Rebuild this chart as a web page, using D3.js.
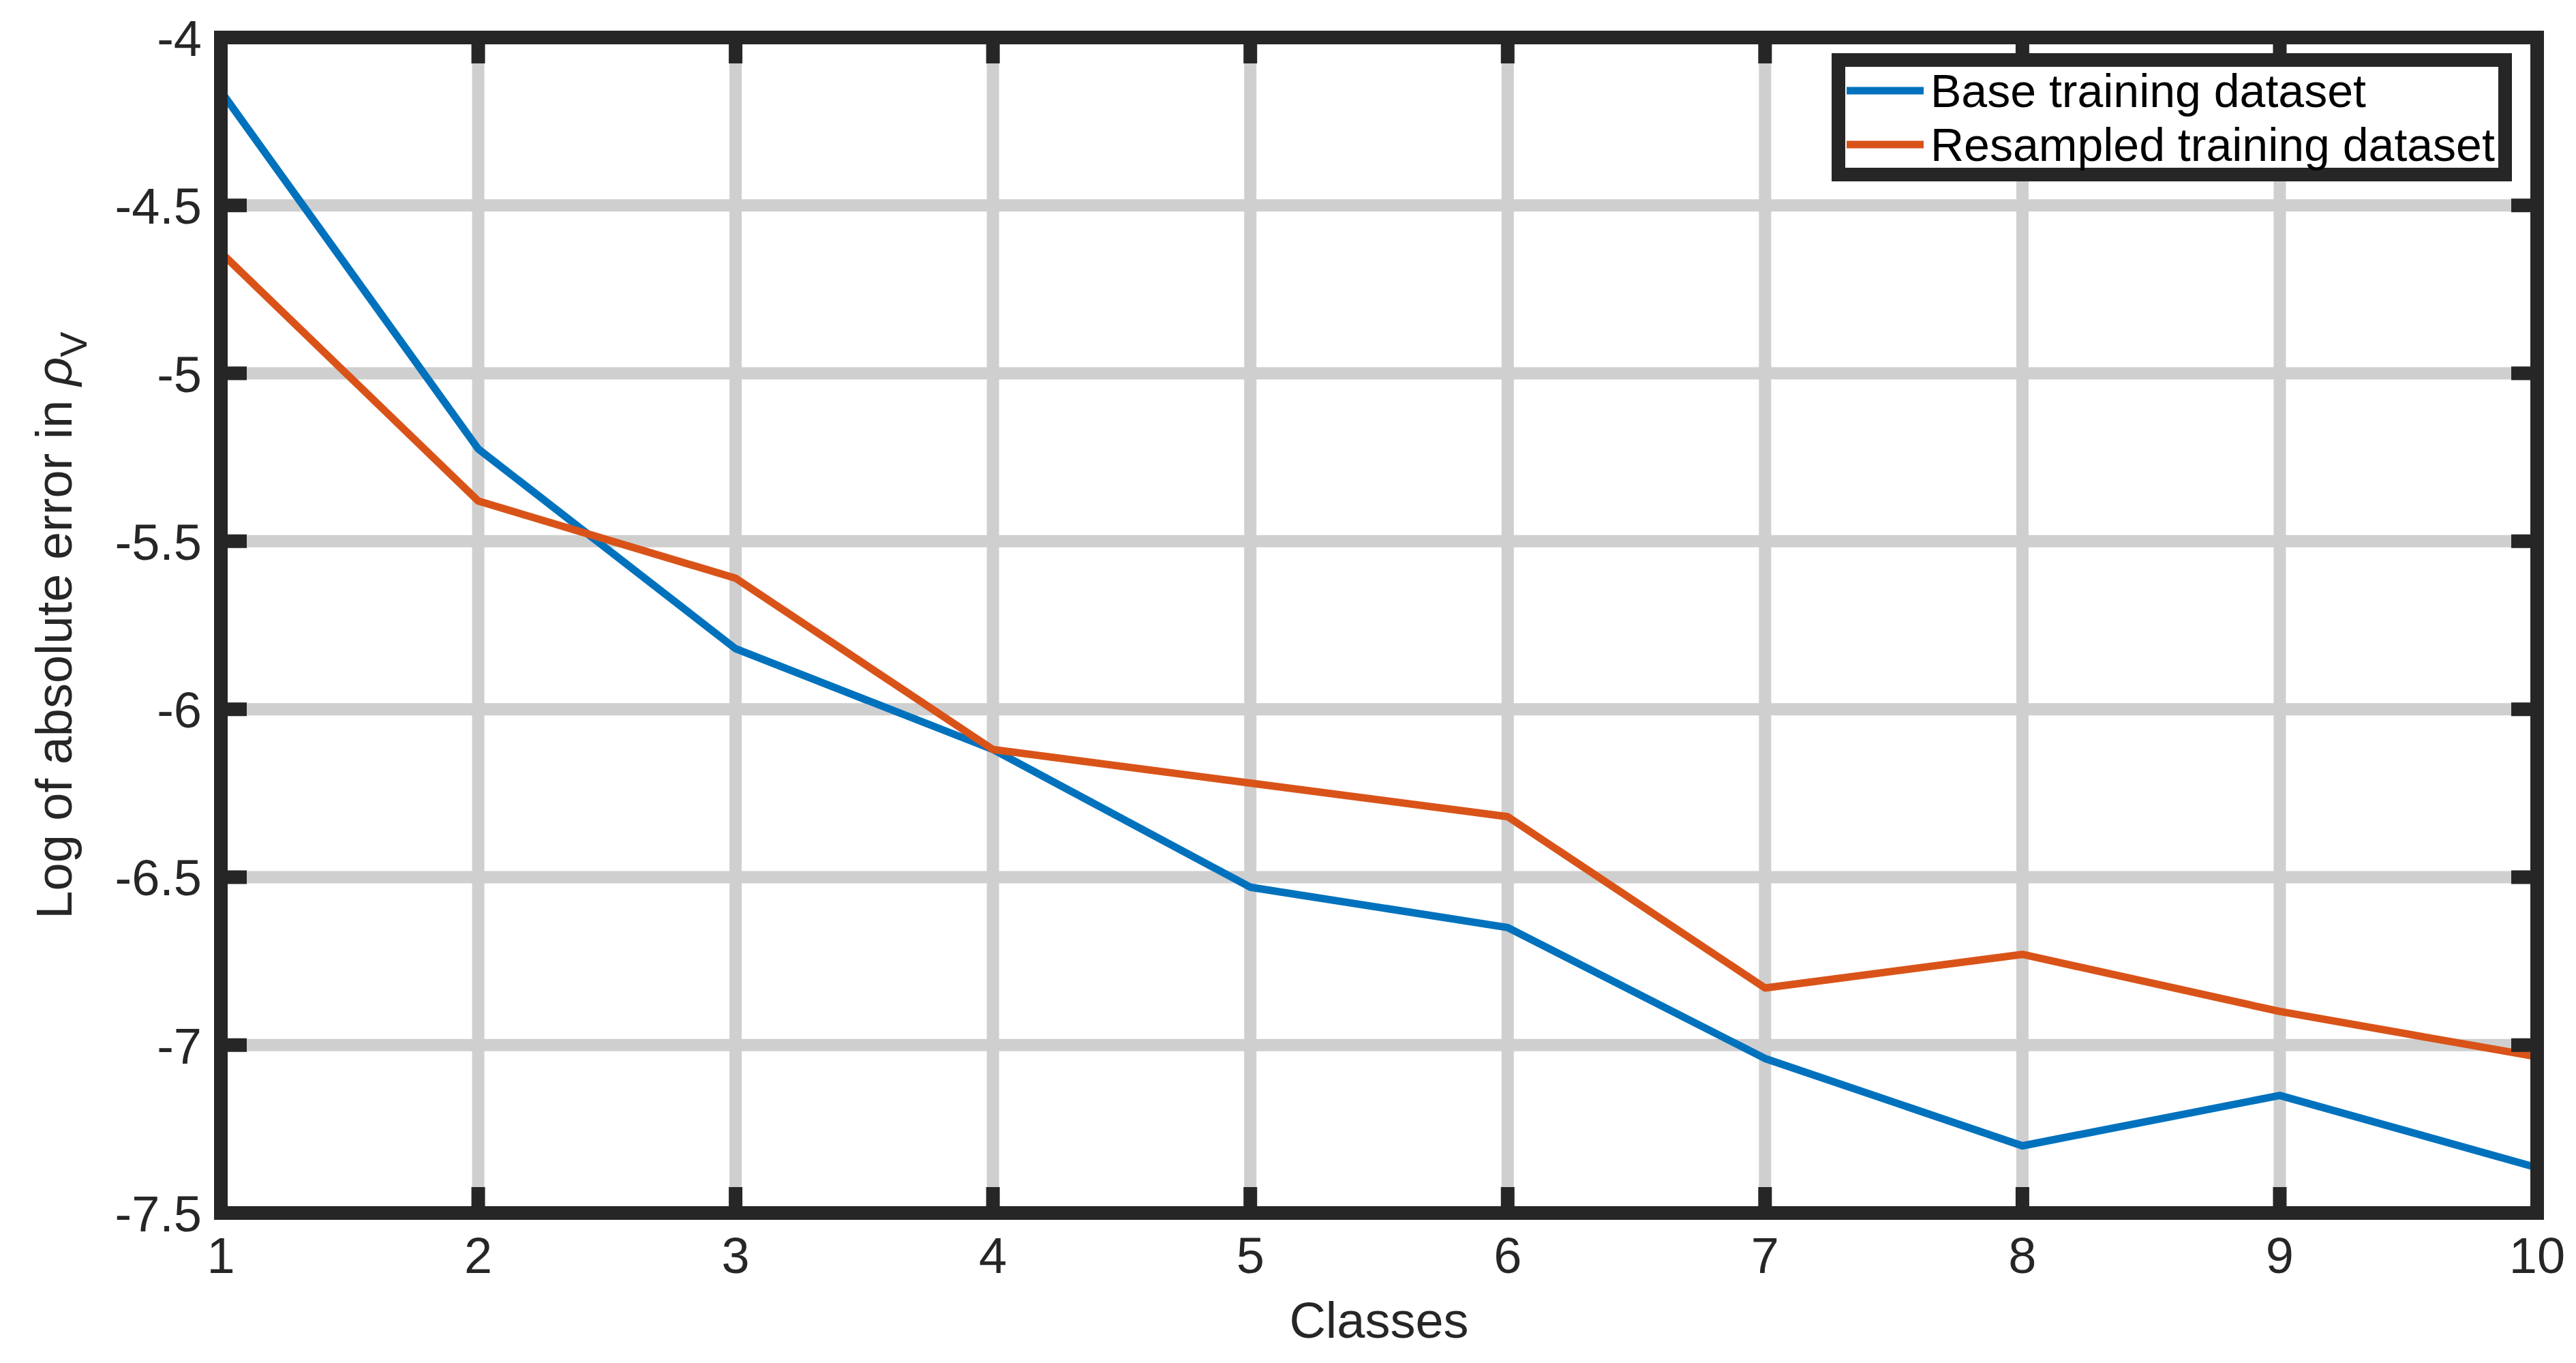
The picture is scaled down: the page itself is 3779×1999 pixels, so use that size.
<!DOCTYPE html>
<html>
<head>
<meta charset="utf-8">
<script src="https://cdn.jsdelivr.net/npm/d3@7.9.0/dist/d3.min.js"></script>
<style>
  body { margin: 0; background: #fff; }
  text { font-family: "Liberation Sans", Arial, sans-serif; fill: #262626; }
</style>
</head>
<body>
<svg id="chart" width="3779" height="1999"></svg>
<script>
// Data
const classes = [1, 2, 3, 4, 5, 6, 7, 8, 9, 10];
const baseErr = [-4.16, -5.225, -5.82, -6.12, -6.53, -6.65, -7.04, -7.30, -7.15, -7.365];
const resampledErr = [-4.64, -5.38, -5.61, -6.12, -6.22, -6.32, -6.83, -6.73, -6.90, -7.035];
const yTicks = [-7.5, -7, -6.5, -6, -5.5, -5, -4.5, -4];
const seriesNames = ["Base training dataset", "Resampled training dataset"];
const seriesColors = ["#0072BD", "#D95319"];

const margin = { left: 324, right: 57, top: 55, bottom: 220 };
const width = 3779, height = 1999;
const svg = d3.select("#chart");

const x = d3.scaleLinear().domain([1, 10]).range([margin.left, width - margin.right]);
const y = d3.scaleLinear().domain([-7.5, -4]).range([height - margin.bottom, margin.top]);

// grid
const grid = svg.append("g");
grid.selectAll(".gx").data(classes).enter().append("line")
  .attr("x1", d => x(d)).attr("x2", d => x(d))
  .attr("y1", y(-4)).attr("y2", y(-7.5))
  .attr("stroke", "#cfcfcf").attr("stroke-width", 18);
grid.selectAll(".gy").data(yTicks).enter().append("line")
  .attr("y1", d => y(d)).attr("y2", d => y(d))
  .attr("x1", x(1)).attr("x2", x(10))
  .attr("stroke", "#cfcfcf").attr("stroke-width", 18);

// lines
const line = d3.line().x((d, i) => x(classes[i])).y(d => y(d));
[baseErr, resampledErr].forEach((s, k) => {
  svg.append("path").datum(s)
    .attr("d", line).attr("fill", "none")
    .attr("stroke", seriesColors[k]).attr("stroke-width", 11)
    .attr("stroke-linejoin", "round");
});

// axes box and ticks
const axisColor = "#262626";
const tickLen = 38;
const ax = svg.append("g");
ax.append("rect")
  .attr("x", x(1)).attr("y", y(-4))
  .attr("width", x(10) - x(1)).attr("height", y(-7.5) - y(-4))
  .attr("fill", "none").attr("stroke", axisColor).attr("stroke-width", 20);
classes.forEach(c => {
  ax.append("line").attr("x1", x(c)).attr("x2", x(c))
    .attr("y1", y(-7.5)).attr("y2", y(-7.5) - tickLen)
    .attr("stroke", axisColor).attr("stroke-width", 20);
  ax.append("line").attr("x1", x(c)).attr("x2", x(c))
    .attr("y1", y(-4)).attr("y2", y(-4) + tickLen)
    .attr("stroke", axisColor).attr("stroke-width", 20);
  ax.append("text").attr("x", x(c)).attr("y", y(-7.5) + 88)
    .attr("text-anchor", "middle").attr("font-size", 74).text(c);
});
yTicks.forEach(t => {
  ax.append("line").attr("x1", x(1)).attr("x2", x(1) + tickLen)
    .attr("y1", y(t)).attr("y2", y(t))
    .attr("stroke", axisColor).attr("stroke-width", 20);
  ax.append("line").attr("x1", x(10)).attr("x2", x(10) - tickLen)
    .attr("y1", y(t)).attr("y2", y(t))
    .attr("stroke", axisColor).attr("stroke-width", 20);
  ax.append("text").attr("x", x(1) - 28).attr("y", y(t) + 27)
    .attr("text-anchor", "end").attr("font-size", 74).text(t);
});

// axis labels
svg.append("text").attr("x", (x(1) + x(10)) / 2).attr("y", 1962)
  .attr("text-anchor", "middle").attr("font-size", 74).text("Classes");
const yl = svg.append("text")
  .attr("transform", `translate(105,${(y(-4) + y(-7.5)) / 2}) rotate(-90)`)
  .attr("text-anchor", "middle").attr("font-size", 74);
yl.append("tspan").text("Log of absolute error in ");
yl.append("tspan").attr("font-style", "italic").text("ρ");
yl.append("tspan").attr("font-size", 56).attr("dy", 22).text("V");

// legend
const lg = svg.append("g");
lg.append("rect").attr("x", 2697).attr("y", 88).attr("width", 978).attr("height", 168)
  .attr("fill", "#fff").attr("stroke", axisColor).attr("stroke-width", 20);
seriesNames.forEach((n, i) => {
  const ry = 133 + i * 79;
  lg.append("line").attr("x1", 2709).attr("x2", 2822).attr("y1", ry).attr("y2", ry)
    .attr("stroke", seriesColors[i]).attr("stroke-width", 11);
  lg.append("text").attr("x", 2832).attr("y", ry + 24).attr("font-size", 68).attr("fill", "#000")
    .style("fill", "#000").text(n);
});
</script>
</body>
</html>
